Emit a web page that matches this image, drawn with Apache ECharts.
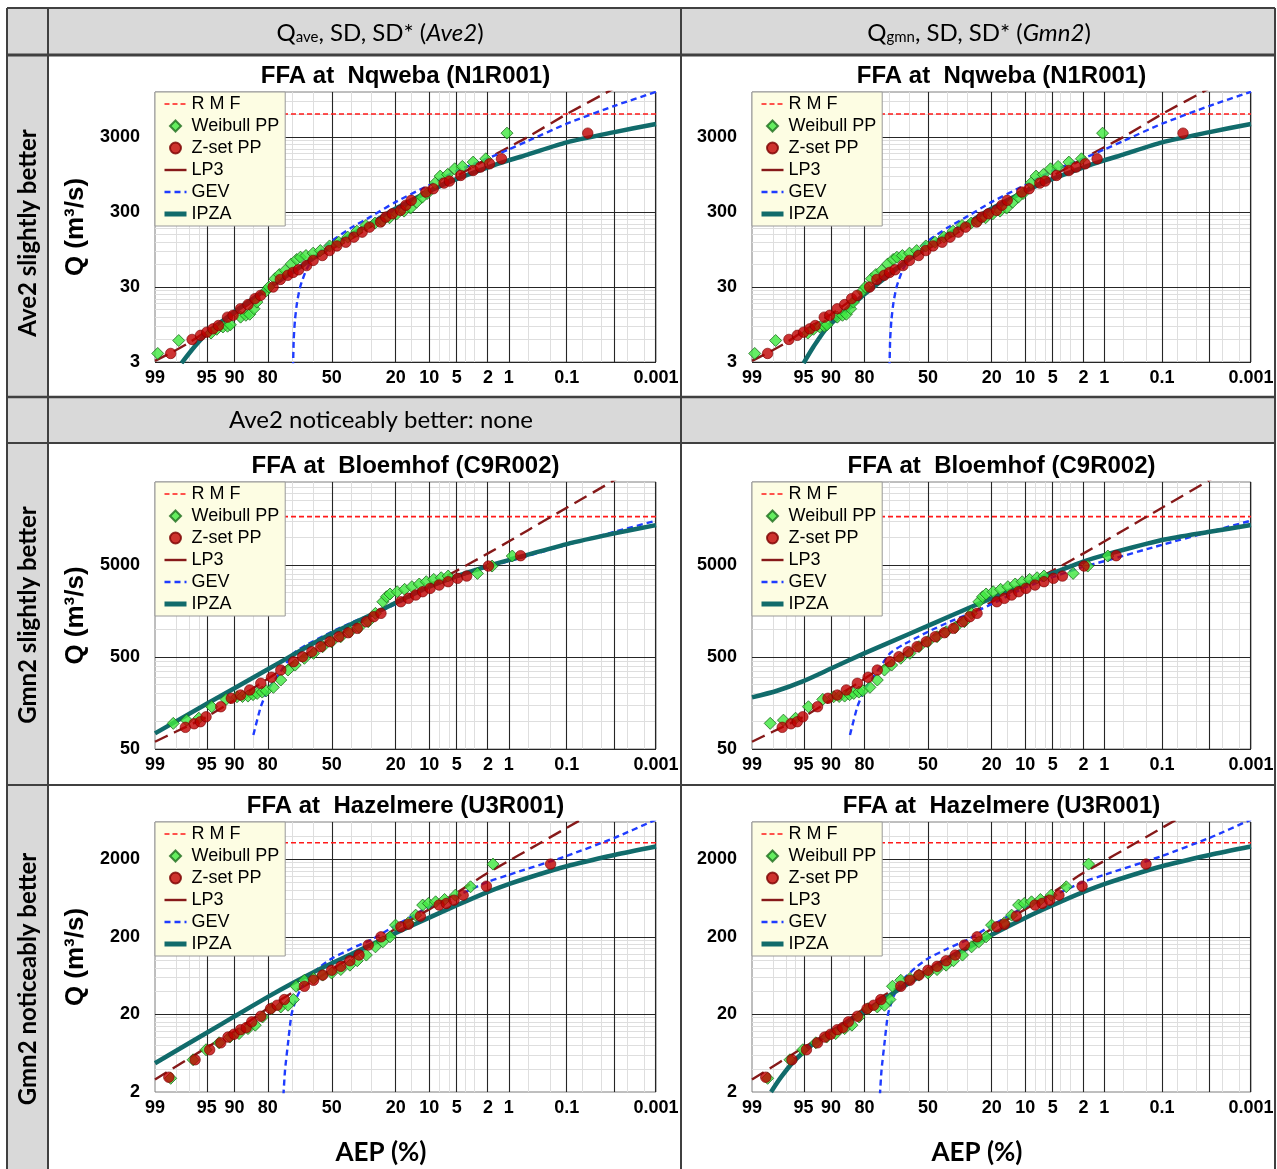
<!DOCTYPE html>
<html><head><meta charset="utf-8">
<script src="https://cdn.jsdelivr.net/npm/echarts@6.0.0/dist/echarts.min.js"></script>
<style>html,body{margin:0;padding:0;background:#fff}#c{width:1277px;height:1169px}</style>
</head><body><div id="c"></div>
<script>
// ---------------- DATA (AEP %, Q m3/s) ----------------
const xTickLabels = [99, 95, 90, 80, 50, 20, 10, 5, 2, 1, 0.1, 0.001];
const xMajorLines = [99, 95, 90, 80, 50, 20, 10, 5, 2, 1, 0.1, 0.01, 0.001];
const xMinorLines = [98, 97, 96, 85, 70, 60, 40, 30, 15, 8, 6, 4, 3, 0.5, 0.2, 0.05, 0.02, 0.005, 0.002];
const legendNames = ['R M F', 'Weibull PP', 'Z-set PP', 'LP3', 'GEV', 'IPZA'];

// Nqweba (N1R001)
const nqTitle = 'FFA at  Nqweba (N1R001)';
const nqRange = [3, 12000];
const nqRMF = 6100;
const nqWeibull = [[98.9,3.9],[97.8,5.8],[94.4,7.3],[93.5,8.2],[92.4,8.8],[91.5,9.0],[90.9,9.4],[88.5,11.9],[87.1,12.6],[86.0,13],[84.7,15.4],[83.8,18.9],[80.7,26.6],[79.6,30],[77.3,38.7],[75.5,44],[73.0,50],[70.3,61],[67.8,70],[66.0,75],[63.3,79],[59.7,85],[56.0,92],[51.2,106],[46.4,119],[41.7,139],[37.1,167],[32.7,199],[28.5,214],[25.4,228],[22.4,252],[19.6,285],[17.1,309],[15.0,339],[13.2,407],[11.7,475],[10.5,530],[8.7,731],[7.7,906],[6.4,953],[5.3,1135],[4.3,1220],[3.15,1393],[2.14,1542],[1.06,3390]];
const nqZset = [[98.3,3.9],[96.7,6.0],[95.8,6.8],[95.0,7.5],[94.1,8.3],[93.2,9.2],[91.5,11.9],[90.3,12.6],[88.5,15.4],[86.5,17.5],[84.4,21],[82.6,23.2],[78.0,30],[75.1,37.9],[71.9,43],[69.5,47],[66.9,51],[63.0,58],[59.7,68],[55.0,79],[51.2,92],[47.4,106],[42.7,119],[38.6,139],[34.5,162],[31.0,189],[26.1,221],[23.9,257],[21.3,285],[18.3,316],[16.5,370],[14.8,430],[10.8,555],[9.1,614],[7.0,731],[6.1,777],[4.5,925],[3.15,1079],[2.53,1194],[1.9,1321],[1.28,1542],[0.038,3390]];
const nqLP3 = [[99,3.1],[98,4.3],[97,5.4],[95,7.8],[90,13],[80,27],[70,47],[60,70],[50,98],[40,132],[30,195],[20,297],[10,585],[5,910],[2,1560],[1,2200],[0.5,3000],[0.1,6100],[0.01,13500],[0.001,28000]];
const nqGEV = [[69.5,2.5],[69.2,6],[68.6,11],[67.6,19],[66.3,29],[65.4,35],[63,52],[60,70],[55,96],[50,124],[40,185],[30,265],[20,410],[10,690],[5,1070],[2,1560],[1,2050],[0.5,2660],[0.1,4530],[0.01,7850],[0.001,12050]];
const nqIPZAave = [[97.6,2.9],[96.4,4.9],[95,7.2],[90,14],[85,21],[80,29],[70,47],[60,72],[50,105],[40,150],[30,215],[20,335],[10,570],[5,830],[2,1185],[1,1466],[0.5,1753],[0.1,2550],[0.01,3500],[0.001,4500]];
const nqIPZAgmn = [[95.0,2.9],[93.5,4.8],[90.8,8.8],[85,16],[80,24],[70,43],[60,70],[50,103],[40,150],[30,215],[20,335],[10,570],[5,830],[2,1185],[1,1466],[0.5,1753],[0.1,2550],[0.01,3500],[0.001,4500]];

// Bloemhof (C9R002)
const blTitle = 'FFA at  Bloemhof (C9R002)';
const blRange = [50, 40000];
const blRMF = 16800;
const blWeibull = [[98.15,95],[97.2,103],[96.0,108],[94.3,144],[91.8,173],[89.4,185],[88,186],[86.5,188],[85,195],[83.7,201],[82,208],[80.6,215],[77.9,234],[74.9,281],[71.8,361],[68.5,409],[64.1,484],[59.5,548],[54.8,648],[50.1,734],[45.3,832],[40.6,942],[36,1050],[31.6,1211],[28.3,1492],[25.1,1996],[23.6,2263],[22.2,2422],[19.5,2566],[16.9,2723],[14.6,2911],[12.5,3111],[10.7,3297],[9.0,3493],[7.5,3640],[6.3,3796],[2.77,4057],[1.75,4875],[0.88,6268]];
const blZset = [[97.3,86],[96.5,94],[95.8,99],[95.1,112],[92.8,144],[90.7,178],[88.5,193],[86,219],[82.5,259],[78.6,301],[74.9,361],[69.3,445],[65,504],[60.4,572],[55.8,648],[51,734],[46.3,832],[41.5,919],[36.9,1025],[32.5,1211],[29.1,1372],[25.9,1492],[18.2,1996],[15.7,2172],[13.5,2361],[11.6,2566],[9.8,2787],[7.9,3032],[6.3,3297],[4.9,3584],[3.8,3796],[1.97,4875],[0.65,6320]];
const blLP3 = [[99,60],[98,77],[97,90],[95,112],[90,170],[80,290],[70,430],[60,590],[50,790],[40,1040],[30,1400],[20,1990],[10,3050],[5,4350],[2,6700],[1,9000],[0.5,11900],[0.1,21000],[0.01,42000],[0.001,77000]];
const blGEV = [[84.9,71],[82.5,144],[80,219],[76.4,306],[69.3,548],[63.2,675],[50,942],[36.9,1262],[25.1,1622],[19.5,1916],[10,2850],[5,3700],[2,4800],[1,5500],[0.1,8300],[0.01,11500],[0.001,15200]];
const blIPZAave = [[99,74],[95,155],[90,229],[80,368],[70,520],[60,697],[50,902],[40,1135],[30,1445],[20,1950],[10,2906],[5,3796],[2,4875],[1,5665],[0.1,8450],[0.01,11040],[0.001,13600]];
const blIPZAgmn = [[99,182],[97.7,215],[95.2,270],[89.9,377],[80.1,548],[67.8,750],[51.1,1069],[37.9,1413],[26,1862],[9.8,3126],[4.9,4110],[2.07,5430],[1,6420],[0.1,9350],[0.01,11500],[0.001,13600]];

// Hazelmere (U3R001)
const hzTitle = 'FFA at  Hazelmere (U3R001)';
const hzRange = [2, 6000];
const hzRMF = 3250;
const hzWeibull = [[98.3,3.0],[96.6,5.2],[95.1,7.0],[93.1,8.6],[91,10.2],[88.9,11.3],[86.5,13.1],[84.3,14.5],[81.9,18.5],[78.6,23.7],[74.9,24.9],[71.8,26.2],[69.3,31],[68.1,46],[64.1,55],[59.5,58],[54.8,64],[50.1,68],[45.3,75.5],[40.6,86],[36.9,98],[32.5,116],[28.3,148],[25.1,172],[22.2,199],[20.1,282],[15.7,302],[13.5,379],[11.6,511],[10.2,536],[8.6,563],[6.9,603],[5.2,686],[3.4,879],[1.7,1722]];
const hzZset = [[98.4,3.1],[96.4,5.2],[94.6,7.0],[92.8,8.6],[91.4,10.2],[90.1,11.1],[88.5,12.7],[87,13.5],[85.4,16],[82.5,18.9],[79,23.7],[76.4,26.2],[73.4,31],[64.1,46],[59.5,55],[54.8,64],[50.1,74],[45.3,83],[40.6,98],[36,116],[31.6,156],[25.9,199],[18.2,268],[15.7,290],[12.2,368],[7.9,511],[6.6,536],[5.4,591],[4.2,686],[2.1,895],[0.2,1722]];
const hzLP3 = [[99,2.9],[95,7.5],[90,12],[80,24],[70,38],[60,53],[50,76],[40,108],[30,155],[20,255],[10,450],[5,740],[2,1330],[1,1890],[0.5,2600],[0.1,5050],[0.01,11400],[0.001,25000]];
const hzGEV = [[73.8,1.8],[73.1,3.8],[71.8,8.4],[70.2,20],[67.6,34],[63.2,55],[55.8,83],[50,105],[40,140],[30,184],[20,280],[10,485],[5,670],[2,1020],[1,1250],[0.1,2193],[0.01,3750],[0.001,6440]];
const hzIPZAave = [[99,4.7],[95,11.6],[90,18.8],[80,33.6],[70,50],[60,68.7],[50,90.8],[40,119],[30,159],[20,223],[10,352],[5,508],[2,755],[1,953],[0.1,1615],[0.01,2255],[0.001,2900]];
const hzIPZAgmn = [[98.1,2],[97.4,3.1],[96.1,5.1],[93.5,8.4],[89.1,12.7],[80,21.8],[70,34.3],[60,50.5],[50,72],[40,101],[30,144],[20,212],[10,349],[5,508],[2,755],[1,953],[0.1,1615],[0.01,2255],[0.001,2900]];

// ---------------- SCALE HELPERS ----------------
function normInv(p){
  const a=[-3.969683028665376e+01,2.209460984245205e+02,-2.759285104469687e+02,1.383577518672690e+02,-3.066479806614716e+01,2.506628277459239e+00];
  const b=[-5.447609879822406e+01,1.615858368580409e+02,-1.556989798598866e+02,6.680131188771972e+01,-1.328068155288572e+01];
  const c=[-7.784894002430293e-03,-3.223964580411365e-01,-2.400758277161838e+00,-2.549732539343734e+00,4.374664141464968e+00,2.938163982698783e+00];
  const d=[7.784695709041462e-03,3.224671290700398e-01,2.445134137142996e+00,3.754408661907416e+00];
  const pl=0.02425, ph=1-pl; let q, r;
  if(p<pl){q=Math.sqrt(-2*Math.log(p));return (((((c[0]*q+c[1])*q+c[2])*q+c[3])*q+c[4])*q+c[5])/((((d[0]*q+d[1])*q+d[2])*q+d[3])*q+1);}
  if(p<=ph){q=p-0.5;r=q*q;return (((((a[0]*r+a[1])*r+a[2])*r+a[3])*r+a[4])*r+a[5])*q/(((((b[0]*r+b[1])*r+b[2])*r+b[3])*r+b[4])*r+1);}
  q=Math.sqrt(-2*Math.log(1-p));return -(((((c[0]*q+c[1])*q+c[2])*q+c[3])*q+c[4])*q+c[5])/((((d[0]*q+d[1])*q+d[2])*q+d[3])*q+1);
}
const zOf = aep => normInv(1 - aep / 100);
const lg = v => Math.log10(v);
const toXY = arr => arr.map(([a, q]) => [zOf(a), lg(q)]);
const X0 = zOf(99), X1 = zOf(0.001);
const labelMap = {};
xTickLabels.forEach(a => { labelMap[zOf(a).toFixed(5)] = String(a); });

// ---------------- LAYOUT ----------------
const colX = [155, 752], plotW = [501, 499];
const rowY = [92, 482, 822], plotH = [270, 267, 270];
const titleY = [76, 466, 806];
const AX_FONT = 'Liberation Sans';

const gauges = [
  {title: nqTitle, range: nqRange, rmf: nqRMF, w: nqWeibull, zs: nqZset, lp3: nqLP3, gev: nqGEV, ipza: [nqIPZAave, nqIPZAgmn]},
  {title: blTitle, range: blRange, rmf: blRMF, w: blWeibull, zs: blZset, lp3: blLP3, gev: blGEV, ipza: [blIPZAave, blIPZAgmn]},
  {title: hzTitle, range: hzRange, rmf: hzRMF, w: hzWeibull, zs: hzZset, lp3: hzLP3, gev: hzGEV, ipza: [hzIPZAave, hzIPZAgmn]}
];

const option = {animation: false, backgroundColor: '#fff', grid: [], xAxis: [], yAxis: [], series: [], legend: [], graphic: []};

function gridLineItems(range){
  const items = [];
  const major = {color: '#262626', width: 1.1, type: 'solid'};
  const minor = {color: '#dedede', width: 1, type: 'solid'};
  xMinorLines.forEach(a => items.push({xAxis: zOf(a), lineStyle: minor}));
  const base = range[0];
  const majY = [];
  for (let m = base; m < range[1] * 0.999; m *= 10) {
    majY.push(m);
    for (let k = 2; k <= 9; k++) { const v = m * k; if (v < range[1] * 0.999) items.push({yAxis: lg(v), lineStyle: minor}); }
  }
  xMajorLines.forEach(a => items.push({xAxis: zOf(a), lineStyle: major}));
  majY.forEach(v => items.push({yAxis: lg(v), lineStyle: major}));
  return {items, majY};
}

const hideSym = {opacity: 0, color: 'rgba(0,0,0,0)', borderColor: 'rgba(0,0,0,0)'};
const legendData = [
  {name: 'R M F', itemStyle: hideSym, lineStyle: {width: 1.6}},
  {name: 'Weibull PP', icon: 'path://M5,0L10,5L5,10L0,5Z'},
  {name: 'Z-set PP', icon: 'circle'},
  {name: 'LP3', itemStyle: hideSym, lineStyle: {width: 2.4, type: 'solid'}},
  {name: 'GEV', itemStyle: hideSym, lineStyle: {width: 2.4}},
  {name: 'IPZA', itemStyle: hideSym, lineStyle: {width: 5}}
];

gauges.forEach((g, r) => {
  [0, 1].forEach(c => {
    const i = r * 2 + c;
    const {items, majY} = gridLineItems(g.range);
    option.grid.push({left: colX[c], top: rowY[r], width: plotW[c], height: plotH[r], show: true,
      backgroundColor: '#fff', borderColor: '#7f7f7f', borderWidth: 1});
    option.xAxis.push({gridIndex: i, type: 'value', min: X0, max: X1,
      axisLine: {show: false}, axisTick: {show: false, customValues: xTickLabels.map(zOf)}, splitLine: {show: false},
      axisLabel: {customValues: xTickLabels.map(zOf), margin: 7, fontFamily: AX_FONT, fontWeight: 'bold', fontSize: 18, color: '#000',
        formatter: v => labelMap[v.toFixed(5)] || ''}});
    option.yAxis.push({gridIndex: i, type: 'value', min: lg(g.range[0]), max: lg(g.range[1]),
      axisLine: {show: false}, axisTick: {show: false, customValues: majY.map(lg)}, splitLine: {show: false},
      axisLabel: {customValues: majY.map(lg), margin: 15, fontFamily: AX_FONT, fontWeight: 'bold', fontSize: 18, color: '#000',
        formatter: v => String(Math.round(Math.pow(10, v)))}});
    const ax = {xAxisIndex: i, yAxisIndex: i};
    option.series.push(Object.assign({name: 'R M F', type: 'line', data: [[X0, lg(g.rmf)], [X1, lg(g.rmf)]], symbol: 'none', z: 2, silent: true,
      lineStyle: {color: '#ff1a1a', width: 1.6, type: [5, 3]}, itemStyle: {color: '#ff1a1a'},
      markLine: {silent: true, symbol: ['none', 'none'], label: {show: false}, emphasis: {disabled: true}, z: 1, animation: false, data: items}}, ax));
    option.series.push(Object.assign({name: 'LP3', type: 'line', data: toXY(g.lp3), symbol: 'none', smooth: 0.2, z: 3, silent: true,
      lineStyle: {color: '#861919', width: 2.4, type: [14, 7]}, itemStyle: {color: '#861919'}}, ax));
    option.series.push(Object.assign({name: 'GEV', type: 'line', data: toXY(g.gev), symbol: 'none', smooth: 0.2, z: 3, silent: true,
      lineStyle: {color: '#1f3cff', width: 2.4, type: [6, 4]}, itemStyle: {color: '#1f3cff'}}, ax));
    option.series.push(Object.assign({name: 'IPZA', type: 'line', data: toXY(g.ipza[c]), symbol: 'none', smooth: 0.25, z: 4, silent: true,
      lineStyle: {color: '#116b6b', width: 4.5}, itemStyle: {color: '#116b6b'}}, ax));
    option.series.push(Object.assign({name: 'Weibull PP', type: 'scatter', data: toXY(g.w), symbol: 'diamond', symbolSize: 12, z: 5, silent: true,
      itemStyle: {color: '#3ee83e', borderColor: '#1d6b1d', borderWidth: 1}}, ax));
    option.series.push(Object.assign({name: 'Z-set PP', type: 'scatter', data: toXY(g.zs), symbol: 'circle', symbolSize: 10.5, z: 6, silent: true,
      itemStyle: {color: '#c00000', borderColor: '#7a0000', borderWidth: 0.8}}, ax));
    option.legend.push({data: legendData, orient: 'vertical', left: colX[c], top: rowY[r], itemWidth: 22, itemHeight: 11, itemGap: 4,
      padding: [3, 6, 3, 7], backgroundColor: '#fdfde3', borderColor: '#9a9a9a', borderWidth: 1, selectedMode: false, z: 10,
      textStyle: {fontFamily: AX_FONT, fontSize: 18, color: '#000', lineHeight: 18}});
    option.graphic.push({type: 'text', x: colX[c] + plotW[c] / 2, y: titleY[r], z: 10,
      style: {text: g.title, align: 'center', verticalAlign: 'middle', font: 'bold 24px "Liberation Sans"', fill: '#000'}});
    if (c === 0) {
      option.graphic.push({type: 'text', x: 76, y: rowY[r] + plotH[r] / 2, rotation: Math.PI / 2, z: 10,
        style: {text: 'Q (m³/s)', align: 'center', verticalAlign: 'middle', font: 'bold 26px "Liberation Sans"', fill: '#000'}});
    }
  });
});

// ---------------- TABLE FRAME ----------------
const GRAY = '#d9d9d9', BORDER = '#404040';
const tableRects = [[7, 8, 1268, 47], [7, 8, 41, 1161], [7, 397, 1268, 46]];
tableRects.forEach(([x, y, w, h]) => option.graphic.push({type: 'rect', shape: {x, y, width: w, height: h}, style: {fill: GRAY}, z: 0, silent: true}));
[[8, 2], [55, 3], [397, 2.5], [443, 2], [785, 2]].forEach(([y, w]) => option.graphic.push({type: 'line', shape: {x1: 7, y1: y, x2: 1275, y2: y}, style: {stroke: BORDER, lineWidth: w}, z: 1, silent: true}));
[7, 48, 681, 1275].forEach(x => option.graphic.push({type: 'line', shape: {x1: x, y1: 8, x2: x, y2: 1169}, style: {stroke: BORDER, lineWidth: 2}, z: 1, silent: true}));

const hdrRich = {
  a: {fontSize: 24, fontFamily: 'Lato', lineHeight: 28, verticalAlign: 'bottom', color: '#000'},
  b: {fontSize: 15, fontFamily: 'Lato', lineHeight: 15, verticalAlign: 'bottom', color: '#000'},
  c: {fontSize: 24, fontFamily: 'Lato', fontStyle: 'italic', lineHeight: 28, verticalAlign: 'bottom', color: '#000'}
};
option.graphic.push({type: 'text', x: 380, y: 31, z: 10, style: {text: '{a|Q}{b|ave}{a|, SD, SD* (}{c|Ave2}{a|)}', rich: hdrRich, align: 'center', verticalAlign: 'middle'}});
option.graphic.push({type: 'text', x: 979, y: 31, z: 10, style: {text: '{a|Q}{b|gmn}{a|, SD, SD* (}{c|Gmn2}{a|)}', rich: hdrRich, align: 'center', verticalAlign: 'middle'}});
option.graphic.push({type: 'text', x: 381, y: 420, z: 10, style: {text: 'Ave2 noticeably better: none', align: 'center', verticalAlign: 'middle', font: '24px Lato', fill: '#000'}});
[['Ave2 slightly better', 233], ['Gmn2 slightly better', 615], ['Gmn2 noticeably better', 979]].forEach(([t, y]) =>
  option.graphic.push({type: 'text', x: 28, y, rotation: Math.PI / 2, z: 10, style: {text: t, align: 'center', verticalAlign: 'middle', font: 'bold 24px Lato', fill: '#000'}}));
[381, 977].forEach(x => option.graphic.push({type: 'text', x, y: 1153, z: 10, style: {text: 'AEP (%)', align: 'center', verticalAlign: 'middle', font: 'bold 26px Lato', fill: '#000'}}));

const chart = echarts.init(document.getElementById('c'), null, {renderer: 'canvas'});
chart.setOption(option);
</script></body></html>
